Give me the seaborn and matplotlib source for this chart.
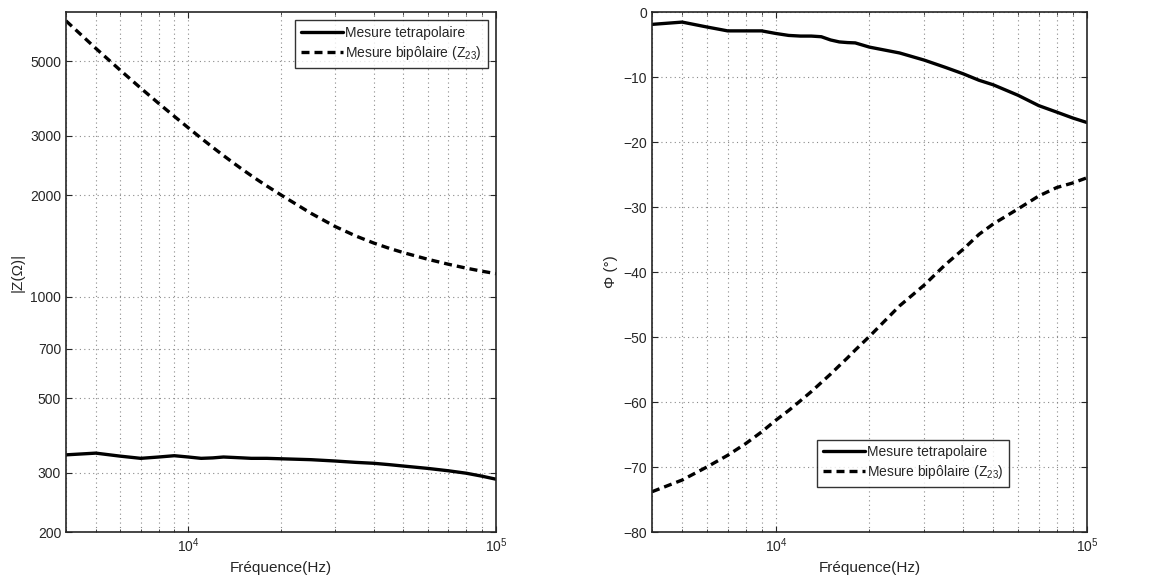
import numpy as np
import pandas as pd
import seaborn as sns
import matplotlib.pyplot as plt
from matplotlib.ticker import NullLocator, FixedLocator, ScalarFormatter

freq = [4000, 5000, 6000, 7000, 8000, 9000, 10000, 11000, 12000, 13000, 14000,
        15000, 16000, 17000, 18000, 20000, 25000, 30000, 35000, 40000, 45000,
        50000, 60000, 70000, 80000, 90000, 100000]

# |Z| (ohm)
z_tetra = [339, 343, 336, 331, 334, 337, 334, 331, 332, 334, 333,
           332, 331, 331, 331, 330, 328, 325, 322, 320, 317,
           314, 309, 304, 299, 293, 287]
z_bipo = [6590, 5460, 4705, 4160, 3750, 3430, 3170, 2954, 2775, 2624, 2495,
          2384, 2288, 2204, 2130, 2004, 1769, 1615, 1514, 1443, 1391,
          1351, 1291, 1248, 1215, 1190, 1170]

# phase (deg)
p_tetra = [-1.9, -1.55, -2.3, -2.9, -2.9, -2.9, -3.3, -3.6, -3.7, -3.7, -3.8,
           -4.3, -4.6, -4.7, -4.75, -5.4, -6.3, -7.4, -8.5, -9.5, -10.5,
           -11.2, -12.8, -14.4, -15.4, -16.3, -17.0]
p_bipo = [-73.8, -72.0, -70.0, -68.2, -66.4, -64.6, -62.8, -61.3, -59.8, -58.4, -57.0,
          -55.7, -54.4, -53.2, -52.0, -49.9, -45.2, -42.0, -38.9, -36.5, -34.2,
          -32.6, -30.3, -28.3, -27.0, -26.3, -25.5]

lab_t = 'Mesure tetrapolaire'
lab_b = 'Mesure bipôlaire (Z$_{23}$)'

df_z = pd.DataFrame({'f': freq * 2, 'v': z_tetra + z_bipo,
                     'serie': [lab_t] * len(freq) + [lab_b] * len(freq)})
df_p = pd.DataFrame({'f': freq * 2, 'v': p_tetra + p_bipo,
                     'serie': [lab_t] * len(freq) + [lab_b] * len(freq)})

sns.set_style('ticks')
plt.rcParams['font.family'] = ['Liberation Sans', 'DejaVu Sans']
plt.rcParams['mathtext.fontset'] = 'custom'
plt.rcParams['mathtext.rm'] = 'Liberation Sans'
plt.rcParams['mathtext.it'] = 'Liberation Sans:italic'

fig = plt.figure(figsize=(11.66, 5.81), dpi=100)
ax1 = fig.add_axes([0.0566, 0.0843, 0.3688, 0.895])
ax2 = fig.add_axes([0.5592, 0.0843, 0.373, 0.895])

dash_map = {lab_t: '', lab_b: (2.4, 1.5)}
grid_kw = dict(linestyle=(0, (1, 3)), color='#8a8a8a', linewidth=0.8)
for ax, d in [(ax1, df_z), (ax2, df_p)]:
    sns.lineplot(data=d, x='f', y='v', style='serie', dashes=dash_map,
                 color='black', linewidth=2.4, ax=ax)
    ax.set_xscale('log')
    ax.set_xlim(4000, 1e5)
    ax.set_xlabel('Fréquence(Hz)', fontsize=11)
    ax.tick_params(direction='in', which='both', top=True, right=True,
                   labelsize=10, length=4)
    ax.tick_params(which='minor', length=2)
    ax.grid(True, which='major', **grid_kw)
    ax.grid(True, which='minor', axis='x', **grid_kw)
    for s in ax.spines.values():
        s.set_linewidth(1.2)

ax1.set_yscale('log')
ax1.set_ylim(200, 7000)
ax1.yaxis.set_major_locator(FixedLocator([200, 300, 500, 700, 1000, 2000, 3000, 5000]))
ax1.yaxis.set_major_formatter(ScalarFormatter())
ax1.yaxis.set_minor_locator(NullLocator())
ax1.set_ylabel('|Z(Ω)|', fontsize=11)
ax1.legend(loc='upper right', fontsize=10, frameon=True, fancybox=False,
           edgecolor='black', handlelength=3, borderaxespad=0.6,
           handletextpad=0.2, labelspacing=0.3).get_frame().set_linewidth(1.0)

ax2.set_ylim(-80, 0)
ax2.set_yticks(np.arange(-80, 1, 10))
ax2.set_ylabel('Φ (°)', fontsize=11)
ax2.legend(loc='lower left', bbox_to_anchor=(0.38, 0.087), fontsize=10,
           frameon=True, fancybox=False, edgecolor='black', handlelength=3,
           borderaxespad=0, handletextpad=0.2,
           labelspacing=0.3).get_frame().set_linewidth(1.0)

plt.savefig('out.png', dpi=100)
